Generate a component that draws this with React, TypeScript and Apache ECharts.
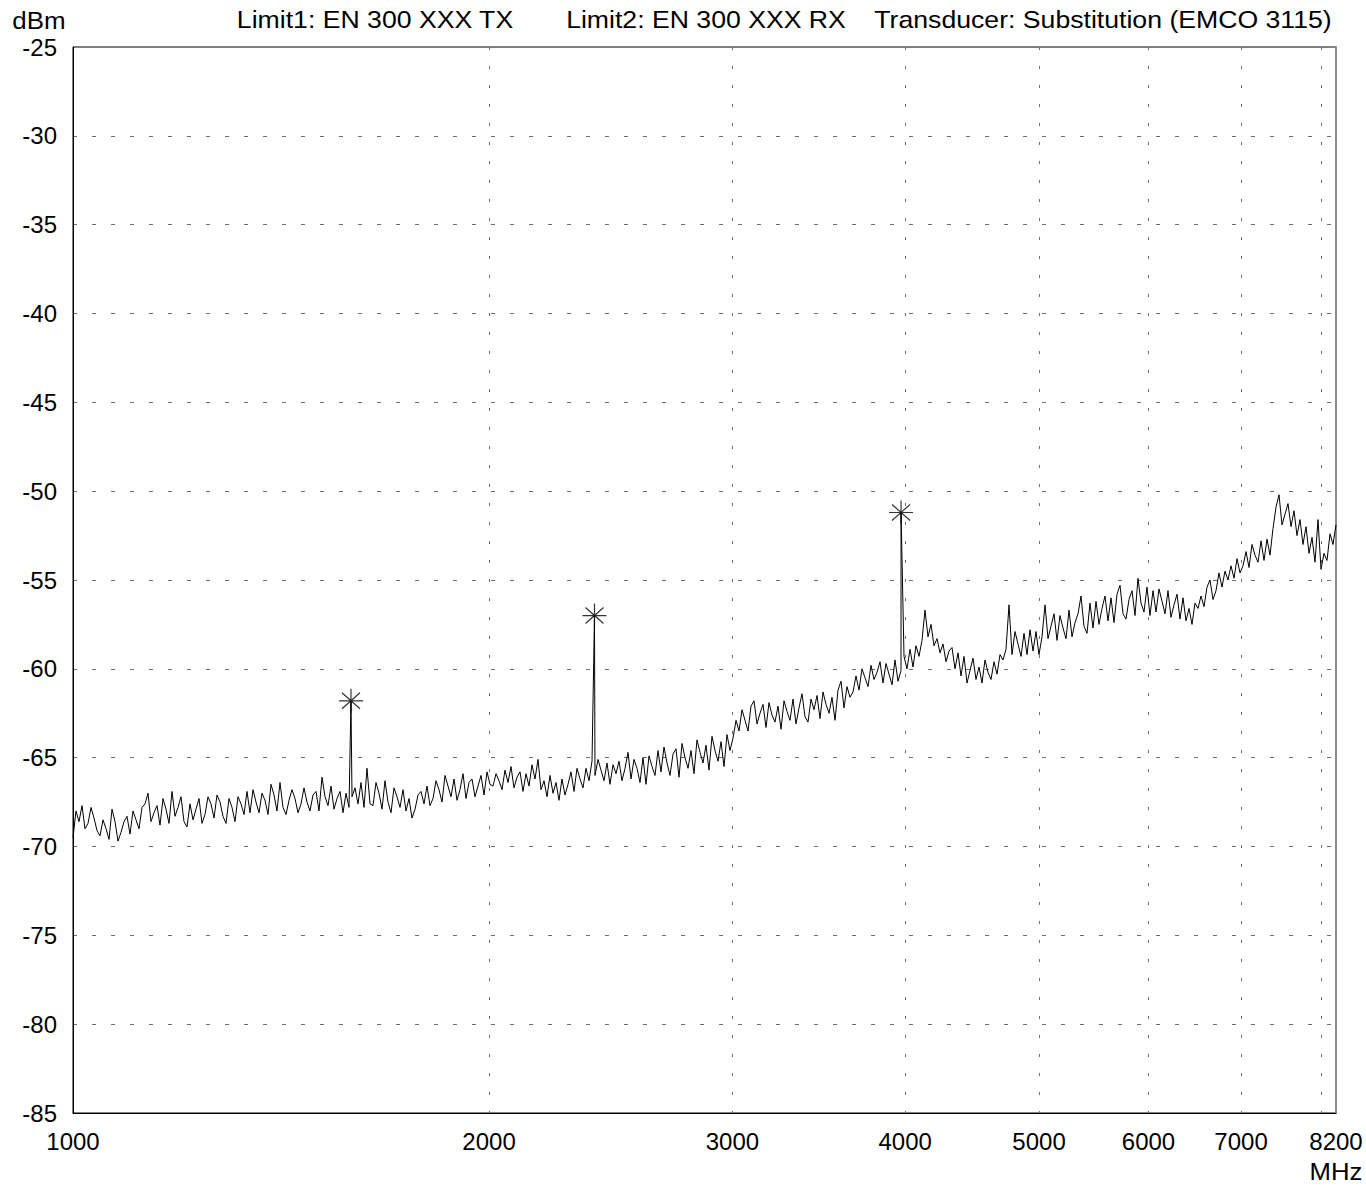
import React, { useEffect, useRef } from "react";
import * as echarts from "echarts";

// Sweep range (MHz)
const START_MHZ = 1000;
const STOP_MHZ = 8200;

// Axis ticks
const xLabelValues = [1000, 2000, 3000, 4000, 5000, 6000, 7000, 8200];
const xGridValues = [2000, 3000, 4000, 5000, 6000, 7000, 8000];
const Y_MIN = -85;
const Y_MAX = -25;
const Y_STEP = 5;

// Measured trace levels (dBm), read across the sweep from 1000 to 8200 MHz
const traceLevels = [
  -69.5, -68.0, -68.6, -67.7, -69.0, -68.7, -67.8, -68.4, -69.1, -69.4, -68.5, -69.0, -69.6, -67.9, -68.6, -69.7, -69.2, -68.6, -68.3, -69.3,
  -68.0, -68.5, -69.0, -67.8, -67.6, -67.0, -68.6, -68.1, -67.7, -68.8, -67.3, -67.9, -68.7, -66.9, -68.3, -67.8, -67.2, -68.6, -68.9, -67.6,
  -68.5, -67.9, -67.3, -68.7, -68.2, -67.2, -67.6, -68.4, -67.1, -67.5, -68.3, -68.7, -67.3, -67.8, -68.6, -67.2, -67.6, -68.2, -66.9, -68.1,
  -66.8, -67.5, -68.1, -67.0, -67.4, -68.2, -66.5, -67.1, -68.0, -66.4, -67.8, -68.2, -67.4, -66.8, -67.3, -68.1, -67.6, -66.7, -67.5, -68.0,
  -67.1, -66.9, -68.0, -66.1, -67.2, -67.7, -66.6, -67.9, -67.3, -66.9, -68.1, -67.0, -67.8, -67.2, -66.7, -67.6, -66.4, -67.8, -65.6, -67.6,
  -67.7, -66.4, -67.0, -67.9, -66.3, -67.5, -68.1, -66.7, -67.2, -67.8, -66.8, -68.0, -67.3, -68.4, -67.9, -67.1, -66.9, -67.6, -66.6, -67.7,
  -67.3, -66.3, -66.8, -67.5, -66.0, -66.6, -67.2, -66.2, -67.4, -66.8, -65.9, -67.3, -66.4, -66.2, -67.2, -66.6, -66.0, -67.1, -65.8, -66.5,
  -66.6, -65.9, -66.3, -66.8, -65.7, -66.4, -65.5, -66.7, -66.1, -65.8, -66.9, -65.9, -66.6, -65.4, -66.2, -65.1, -66.8, -66.3, -67.2, -66.0,
  -67.0, -66.4, -67.4, -66.2, -67.1, -66.5, -65.8, -66.9, -65.6, -66.2, -66.7, -65.6, -66.3, -65.2, -66.0, -65.1, -65.7, -66.3, -65.3, -66.5,
  -65.4, -65.9, -65.2, -66.3, -65.6, -64.7, -66.2, -65.1, -65.6, -66.4, -65.0, -66.5, -64.9, -65.5, -66.0, -64.6, -65.8, -64.4, -65.3, -66.0,
  -64.8, -64.5, -66.1, -64.2, -65.0, -65.6, -64.6, -65.9, -64.0, -64.7, -65.3, -64.3, -65.7, -63.8, -64.6, -65.2, -64.1, -65.5, -63.7, -64.6,
  -63.9, -62.9, -63.5, -62.3, -62.9, -63.5, -62.1, -61.8, -63.1, -62.5, -62.0, -63.3, -61.9, -62.6, -63.0, -62.1, -63.4, -61.8, -62.4, -62.9,
  -61.7, -63.1, -62.2, -61.4, -62.7, -63.0, -61.7, -62.3, -61.5, -62.8, -61.3, -62.0, -62.5, -61.6, -62.9, -61.2, -60.7, -62.2, -61.0, -61.6,
  -61.3, -60.4, -61.2, -60.0, -60.5, -61.0, -59.8, -60.6, -60.2, -59.6, -60.8, -59.7, -60.3, -60.9, -59.5, -60.7, -60.1, -59.3, -60.0, -58.9,
  -59.9, -58.7, -59.3, -58.4, -56.7, -58.2, -57.5, -58.7, -58.3, -59.1, -58.6, -59.6, -59.0, -58.8, -60.0, -59.1, -60.4, -59.3, -60.8, -60.1,
  -59.4, -60.6, -59.9, -60.8, -59.5, -60.2, -60.6, -59.6, -60.3, -59.2, -59.5, -58.9, -56.4, -59.2, -57.9, -58.6, -59.3, -58.0, -59.2, -57.8,
  -59.0, -57.9, -59.2, -58.2, -56.4, -58.3, -57.6, -56.9, -58.4, -57.0, -57.7, -58.3, -56.7, -58.2, -57.4, -56.9, -55.9, -57.6, -58.0, -56.3,
  -57.7, -56.2, -57.5, -56.6, -55.9, -57.3, -56.0, -57.4, -55.8, -55.3, -56.9, -57.2, -56.1, -55.6, -57.0, -54.9, -56.3, -56.8, -55.4, -57.0,
  -55.6, -56.8, -55.5, -56.2, -56.9, -55.6, -57.1, -56.4, -55.8, -57.2, -56.0, -57.3, -56.6, -57.5, -56.3, -56.6, -55.9, -56.5, -55.4, -55.0,
  -56.1, -55.6, -54.6, -55.4, -54.5, -55.0, -54.2, -54.9, -53.8, -54.6, -54.2, -53.4, -54.3, -53.0, -53.6, -54.0, -52.8, -53.9, -52.7, -53.6,
  -52.1, -50.9, -50.2, -51.9, -51.3, -50.7, -52.0, -51.1, -52.5, -51.6, -53.0, -52.0, -53.5, -52.6, -54.0, -51.6, -54.4, -53.5, -53.9, -52.4,
  -53.0, -51.9,
];

// Harmonic markers
const markerFreqs = [1589, 2384, 3973];
const markerLevels = [-61.8, -57.0, -51.2];

// Header texts
const unitY = "dBm";
const unitX = "MHz";
const headerTexts = [
  "Limit1: EN 300 XXX TX",
  "Limit2: EN 300 XXX RX",
  "Transducer: Substitution (EMCO 3115)",
];

const FONT = "'Liberation Sans', Arial, Helvetica, sans-serif";
const ASTERISK = "path://M12 0L12 24M0 12L24 12M3 4L21 20M3 20L21 4";

function buildTrace(): number[][] {
  const n = traceLevels.length;
  const ratio = STOP_MHZ / START_MHZ;
  const pts: number[][] = traceLevels.map((v, i) => [
    START_MHZ * Math.pow(ratio, i / (n - 1)),
    v,
  ]);
  markerFreqs.forEach((f, k) => pts.push([f, markerLevels[k]]));
  pts.sort((a, b) => a[0] - b[0]);
  return pts;
}

function headerText(text: string, x: number, y: number, scaleX: number) {
  return {
    type: "text",
    x,
    y,
    scaleX,
    style: {
      text,
      fontSize: 24,
      fontFamily: FONT,
      fill: "#000",
      align: "center",
      verticalAlign: "middle",
    },
  };
}

export default function App() {
  const ref = useRef<HTMLDivElement>(null);

  useEffect(() => {
    if (!ref.current) return;
    const chart = echarts.init(ref.current, undefined, { renderer: "svg" });
    const trace = buildTrace();
    const markers = markerFreqs.map((f, k) => [f, markerLevels[k]]);
    const headerCenters = [375, 706, 1103];

    const option: any = {
      animation: false,
      backgroundColor: "#ffffff",
      grid: {
        left: 73,
        right: 30,
        top: 47,
        bottom: 78,
        show: true,
        borderColor: "#000",
        borderWidth: 1,
        containLabel: false,
      },
      xAxis: {
        type: "log",
        logBase: 10,
        min: START_MHZ,
        max: STOP_MHZ,
        axisLine: { show: true, onZero: false, lineStyle: { color: "#000", width: 1 } },
        axisTick: { show: false, customValues: xGridValues },
        minorTick: { show: false },
        axisLabel: {
          customValues: xLabelValues,
          formatter: (v: number) => String(Math.round(v)),
          color: "#000",
          fontSize: 24,
          fontFamily: FONT,
          margin: 16,
        },
        splitLine: {
          show: true,
          lineStyle: { color: "#6e6e6e", width: 1, type: [3, 16] },
        },
      },
      yAxis: [
        {
          type: "value",
          min: Y_MIN,
          max: Y_MAX,
          interval: Y_STEP,
          axisLine: { show: true, lineStyle: { color: "#000", width: 1 } },
          axisTick: { show: false },
          axisLabel: {
            color: "#000",
            fontSize: 24,
            fontFamily: FONT,
            margin: 16,
          },
          splitLine: {
            show: true,
            showMinLine: false,
            showMaxLine: false,
            lineStyle: { color: "#6e6e6e", width: 1, type: [4, 15] },
          },
        },
        {
          type: "value",
          position: "right",
          min: Y_MIN,
          max: Y_MAX,
          interval: Y_STEP,
          axisLine: { show: true, lineStyle: { color: "#8c8c8c", width: 2 } },
          axisTick: { show: false },
          axisLabel: { show: false },
          splitLine: { show: false },
        },
      ],
      series: [
        {
          name: "Trace",
          type: "line",
          data: trace,
          showSymbol: false,
          symbol: "none",
          lineStyle: { color: "#000", width: 1 },
          clip: true,
          z: 3,
        },
        {
          name: "Markers",
          type: "scatter",
          data: markers,
          symbol: ASTERISK,
          symbolSize: 24,
          itemStyle: {
            color: "rgba(0,0,0,0)",
            borderColor: "#000",
            borderWidth: 1.2,
          },
          z: 4,
        },
      ],
      graphic: [
        headerText(unitY, 39, 20, 1.08),
        ...headerTexts.map((t, k) => headerText(t, headerCenters[k], 19, 1.11)),
        headerText(unitX, 1336, 1172, 1.07),
      ],
    };

    chart.setOption(option);
    return () => chart.dispose();
  }, []);

  return (
    <div
      ref={ref}
      style={{ position: "absolute", left: 0, top: 0, width: 1366, height: 1191 }}
    />
  );
}
